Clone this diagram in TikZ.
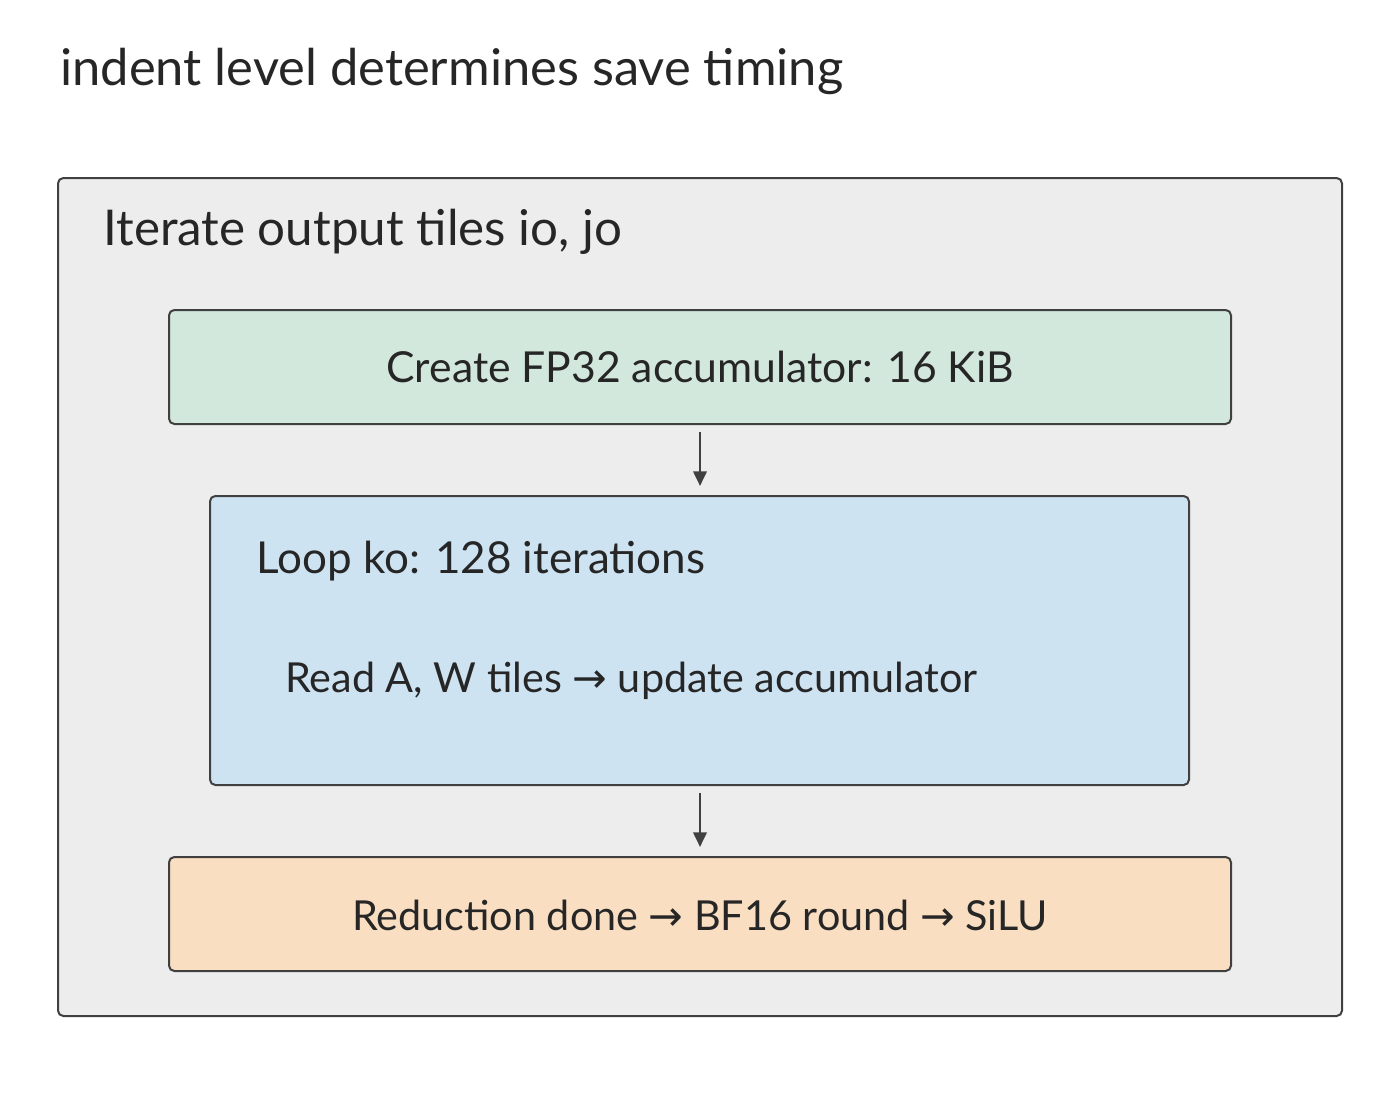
\documentclass[tikz,border=0pt]{standalone}
\usepackage{fontspec}
\setmainfont{Lato}
\newfontfamily\arr{DejaVu Sans}
\usetikzlibrary{arrows.meta}
\newcommand{\ra}{{\arr\char"2192}}
\begin{document}
\begin{tikzpicture}[x=0.75pt,y=-0.75pt,
  box/.style={draw=black!75,line width=1.5pt,rounded corners=4pt},
  lbl/.style={font=\fontsize{31}{36}\selectfont,text=black!85,inner sep=0},
  con/.style={draw=black!75,line width=2pt,-{Triangle[length=11pt,width=10pt]}}]
\useasboundingbox (0,0) rectangle (1400,1107);
\node[lbl,anchor=base west,font=\fontsize{38}{44}\selectfont] (title) at (60,85) {indent level determines save timing};
\draw[box,fill=black!7] (58,178) rectangle (1342,1016);
\node[lbl,anchor=west,font=\fontsize{37}{44}\selectfont] (outer) at (103,232) {Iterate output tiles io, jo};
\draw[box,fill={rgb,255:red,210;green,232;blue,220}] (169,310) rectangle (1231,424);
\node[lbl,font=\fontsize{32}{38}\selectfont] (g) at (700,367) {Create FP32 accumulator: 16 KiB};
\draw[box,fill={rgb,255:red,205;green,227;blue,242}] (210,496) rectangle (1189,785);
\node[lbl,anchor=west,font=\fontsize{33}{38}\selectfont] (loop) at (256,561) {Loop ko: 128 iterations};
\node[lbl,anchor=west] (read) at (285,681) {Read A, W tiles \ra\ update accumulator};
\draw[box,fill={rgb,255:red,249;green,222;blue,194}] (169,857) rectangle (1231,971);
\node[lbl] (o) at (700,915) {Reduction done \ra\ BF16 round \ra\ SiLU};
\coordinate (a1) at (700,432); \coordinate (a2) at (700,486);
\coordinate (b1) at (700,793); \coordinate (b2) at (700,847);
\draw[con] (a1) -- (a2);
\draw[con] (b1) -- (b2);
\end{tikzpicture}
\end{document}
